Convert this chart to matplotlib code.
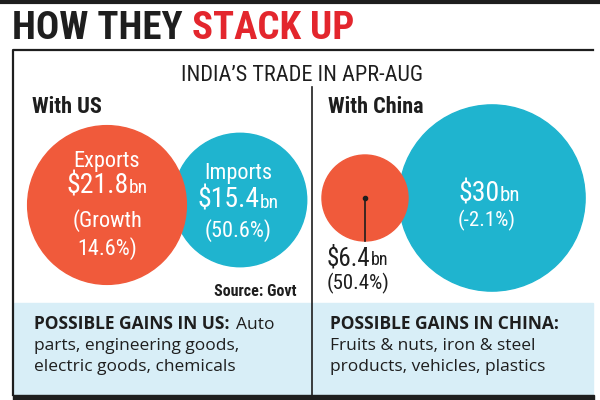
import matplotlib
matplotlib.use("Agg")
import matplotlib.pyplot as plt
import numpy as np
from matplotlib import font_manager
from matplotlib.patches import Circle, Rectangle

# data
partners = ["With US", "With China"]
exports = [21.8, 6.4]        # $bn, Apr-Aug
imports = [15.4, 30.0]
export_growth = ["14.6%", "50.4%"]
import_growth = ["50.6%", "-2.1%"]
gains_head = ["POSSIBLE GAINS IN US:", "POSSIBLE GAINS IN CHINA:"]
gains_text = [["Auto", "parts, engineering goods,", "electric goods, chemicals"],
              ["", "Fruits & nuts, iron & steel", "products, vehicles, plastics"]]

RED = "#f05a3b"
CYAN = "#1fb4cf"
DARK = "#1e1e1e"
PALE = "#d8eef7"

# pick a narrow face if one is installed
fonts = font_manager.fontManager.ttflist
names = {f.name for f in fonts}
STRETCH = "normal"
COND = None
for cand in ["Liberation Sans Narrow", "Roboto Condensed", "Open Sans Condensed"]:
    if cand in names:
        COND = cand
        break
if COND is None:
    if any(f.name == "DejaVu Sans" and str(f.stretch) in ("condensed", "semi-condensed", "75", "87")
           for f in fonts):
        COND, STRETCH = "DejaVu Sans", "condensed"
    elif "Lato" in names:
        COND = "Lato"
    else:
        COND = "DejaVu Sans"
BODY = "Open Sans" if "Open Sans" in names else "DejaVu Sans"

fig = plt.figure(figsize=(6, 4), dpi=100)
ax = fig.add_axes([0, 0, 1, 1])
ax.set_xlim(0, 600)
ax.set_ylim(400, 0)
ax.axis("off")
renderer = fig.canvas.get_renderer()


def txt(x, y, s, size, color=DARK, weight="normal", ha="left", fam=None):
    if fam is None:
        return ax.text(x, y, s, fontsize=size, color=color, fontweight=weight,
                       fontstretch=STRETCH, ha=ha, va="baseline",
                       family=[COND, "DejaVu Sans"], parse_math=False, zorder=5)
    return ax.text(x, y, s, fontsize=size, color=color, fontweight=weight,
                   ha=ha, va="baseline", family=[fam, "DejaVu Sans"],
                   parse_math=False, zorder=5)


def width(t):
    return t.get_window_extent(renderer).width


def money(x, y, value, big, small, color="white"):
    # "$21.8" big, "bn" small, centred together on x
    t1 = txt(x, y, f"${value:g}", big, color)
    t2 = txt(x, y, "bn", small, color)
    x0 = x - (width(t1) + width(t2)) / 2
    t1.set_x(x0)
    t2.set_x(x0 + width(t1))


def radius(v):
    return 17.0 * np.sqrt(v)


# header
ax.plot([0, 600], [1.5, 1.5], color=DARK, lw=3, solid_capstyle="butt")
t = txt(12, 39, "HOW THEY ", 28, DARK, "heavy")
txt(12 + width(t), 39, "STACK UP", 28, "#e3262d", "heavy")

# frame
ax.plot([13, 13, 593], [395, 50, 50], color=DARK, lw=1.6)
txt(302, 81, "INDIA\u2019S TRADE IN APR-AUG", 16, ha="center")
ax.plot([312, 312], [87, 395], color=DARK, lw=1.2)
ax.add_patch(Rectangle((14, 303), 579, 92, color=PALE, zorder=0))
ax.add_patch(Rectangle((13, 395), 581, 5, color=DARK))

# With US
txt(32, 113, partners[0], 16, weight="bold")
ax.add_patch(Circle((107, 205), radius(exports[0]), color=RED, zorder=2))
ax.add_patch(Circle((240, 200), radius(imports[0]), color=CYAN, zorder=1))
txt(107, 167, "Exports", 16, "white", ha="center")
money(107, 193, exports[0], 20, 14)
txt(107, 227, "(Growth", 16, "white", ha="center")
txt(107, 255, export_growth[0] + ")", 16, "white", ha="center")
txt(238, 179, "Imports", 16, "white", ha="center")
money(238, 208, imports[0], 20, 14)
txt(238, 237, "(" + import_growth[0] + ")", 16, "white", ha="center")
txt(297, 296, "Source: Govt", 11.5, weight="bold", ha="right")

# With China
txt(328, 113, partners[1], 16, weight="bold")
ax.add_patch(Circle((492, 198), radius(imports[1]), color=CYAN, zorder=1))
ax.add_patch(Circle((365, 198), radius(exports[1]), color=RED, zorder=2))
money(489, 201, imports[1], 20, 15)
txt(487, 226, "(" + import_growth[1] + ")", 15, "white", ha="center")
ax.plot([365, 365], [198, 241], color=DARK, lw=1.2, zorder=3)
ax.plot([365], [198], "o", color=DARK, ms=3, zorder=3)
t1 = txt(327, 265, f"${exports[1]:g}", 18)
txt(327 + width(t1), 265, "bn", 13)
txt(327, 289, "(" + export_growth[1] + ")", 15)

# possible gains
for i, x in enumerate([34, 330]):
    h = txt(x, 329, gains_head[i], 12.5, weight="bold", fam=BODY)
    if gains_text[i][0]:
        txt(x + width(h) + 6, 329, gains_text[i][0], 12.5, fam=BODY)
    txt(x, 350, gains_text[i][1], 12.5, fam=BODY)
    txt(x, 371, gains_text[i][2], 12.5, fam=BODY)

fig.savefig("out.png", dpi=100, facecolor="white")
